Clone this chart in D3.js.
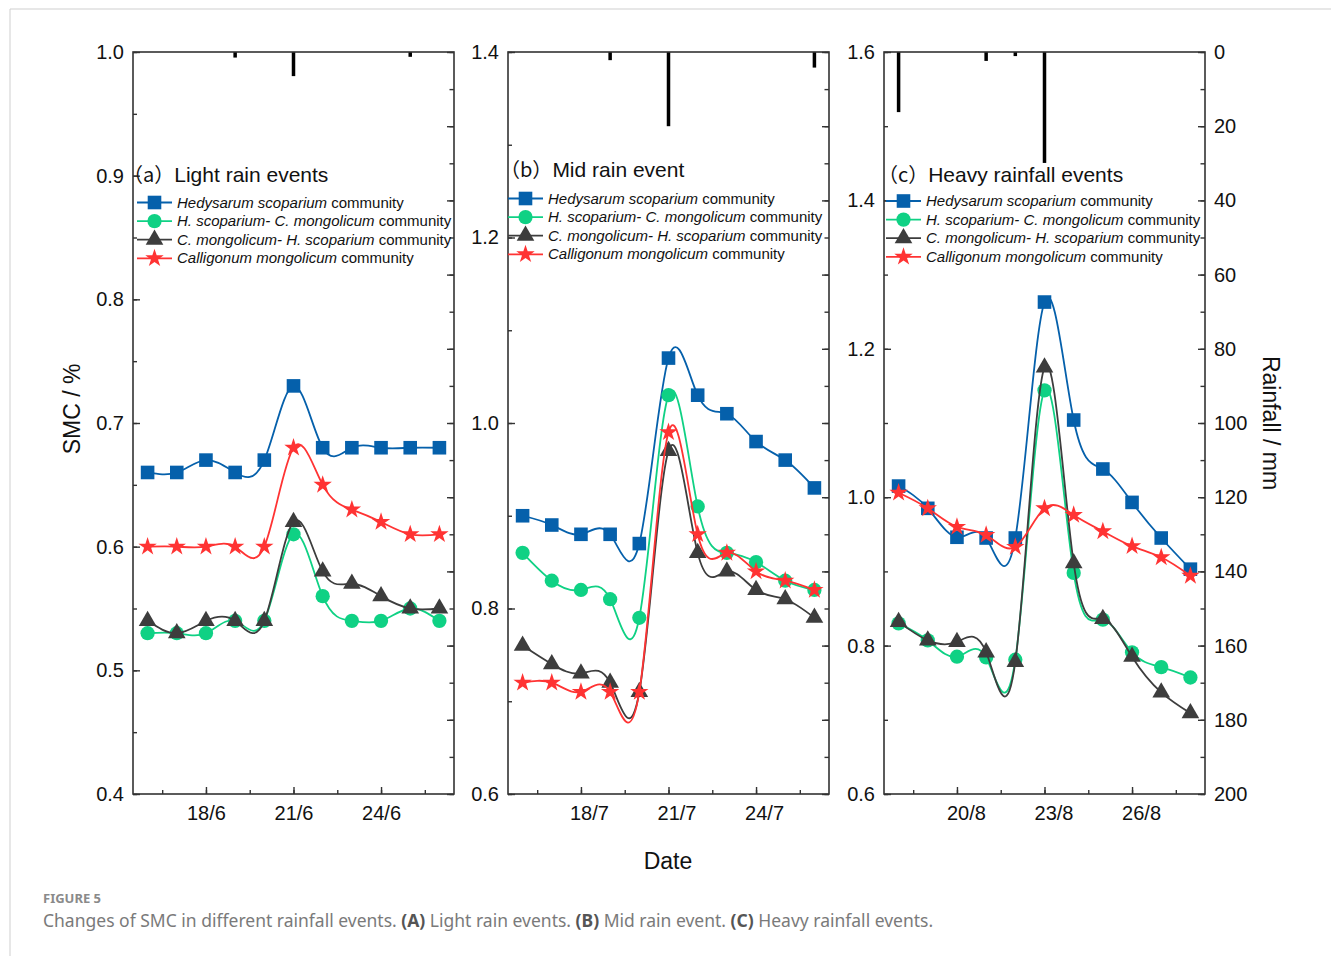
<!DOCTYPE html>
<html>
<head>
<meta charset="utf-8">
<script src="https://cdn.jsdelivr.net/npm/d3@7/dist/d3.min.js"></script>
<style>
  body { margin: 0; background: #fff; }
  svg { display: block; }
  .tick text { font-family: "Liberation Sans", Arial, sans-serif; font-size: 20px; fill: #111; }
  .tick line { stroke: #333; stroke-width: 1.4px; }
  .domain { display: none; }
</style>
</head>
<body>
<div id="chart"></div>
<script>
// ---- data ----
const seriesNames = ["Hedysarum scoparium", "H. scoparium- C. mongolicum", "C. mongolicum- H. scoparium", "Calligonum mongolicum"];
const seriesColors = ["#0560ab", "#0fd184", "#3d3d3d", "#ff3333"];

// (a) light rain, June
const daysA = [16, 17, 18, 19, 20, 21, 22, 23, 24, 25, 26];
const hsA = [0.66, 0.66, 0.67, 0.66, 0.67, 0.73, 0.68, 0.68, 0.68, 0.68, 0.68];
const hcA = [0.53, 0.53, 0.53, 0.54, 0.54, 0.61, 0.56, 0.54, 0.54, 0.55, 0.54];
const chA = [0.54, 0.53, 0.54, 0.54, 0.54, 0.62, 0.58, 0.57, 0.56, 0.55, 0.55];
const cmA = [0.60, 0.60, 0.60, 0.60, 0.60, 0.68, 0.65, 0.63, 0.62, 0.61, 0.61];
const rainDaysA = [19, 21, 25];
const rainA = [1.5, 6.5, 1.3];

// (b) mid rain, July
const daysB = [16, 17, 18, 19, 20, 21, 22, 23, 24, 25, 26];
const hsB = [0.90, 0.89, 0.88, 0.88, 0.87, 1.07, 1.03, 1.01, 0.98, 0.96, 0.93];
const hcB = [0.86, 0.83, 0.82, 0.81, 0.79, 1.03, 0.91, 0.86, 0.85, 0.83, 0.82];
const chB = [0.76, 0.74, 0.73, 0.72, 0.71, 0.97, 0.86, 0.84, 0.82, 0.81, 0.79];
const cmB = [0.72, 0.72, 0.71, 0.71, 0.71, 0.99, 0.88, 0.86, 0.84, 0.83, 0.82];
const rainDaysB = [19, 21, 26];
const rainB = [2.2, 20, 4.2];

// (c) heavy rain, August
const daysC = [18, 19, 20, 21, 22, 23, 24, 25, 26, 27, 28];
const hsC = [1.015, 0.985, 0.946, 0.945, 0.945, 1.263, 1.104, 1.038, 0.993, 0.945, 0.903];
const hcC = [0.830, 0.807, 0.785, 0.784, 0.781, 1.144, 0.898, 0.835, 0.791, 0.771, 0.757];
const chC = [0.832, 0.807, 0.805, 0.791, 0.778, 1.175, 0.911, 0.836, 0.785, 0.737, 0.709];
const cmC = [1.006, 0.985, 0.960, 0.949, 0.933, 0.985, 0.976, 0.954, 0.934, 0.919, 0.894];
const rainDaysC = [18, 21, 22, 23];
const rainC = [16.2, 2.4, 1.1, 29.9];

const labelDaysA = [18, 21, 24];
const labelDaysB = [18, 21, 24];
const labelDaysC = [20, 23, 26];
const months = [6, 7, 8];
const panelTags = ["a", "b", "c"];
const panelTitles = ["Light rain events", "Mid rain event", "Heavy rainfall events"];
const yDomains = [[0.4, 1.0], [0.6, 1.4], [0.6, 1.6]];
const yMajorSteps = [0.1, 0.2, 0.2];
const rainTicks = [0, 20, 40, 60, 80, 100, 120, 140, 160, 180, 200];

const panels = [
  { days: daysA, series: [hsA, hcA, chA, cmA], rainDays: rainDaysA, rain: rainA, labelDays: labelDaysA },
  { days: daysB, series: [hsB, hcB, chB, cmB], rainDays: rainDaysB, rain: rainB, labelDays: labelDaysB },
  { days: daysC, series: [hsC, hcC, chC, cmC], rainDays: rainDaysC, rain: rainC, labelDays: labelDaysC }
];

// ---- layout ----
const W = 1331, H = 956;
const panelLeft = [133, 508, 884];
const plotW = 321, plotTop = 52, plotH = 742;
const labelShift = [0, 8, 9];
const legendPos = [[137, 202.5], [508, 198.5], [886, 201]];
const titlePos = [[123, 182], [500, 177], [878, 182]];
const font = '"Liberation Sans", Arial, sans-serif';

const symbols = [d3.symbolSquare, d3.symbolCircle, d3.symbolTriangle, d3.symbolStar];
const symbolSizes = [185, 160, 135, 105];

const svg = d3.select("#chart").append("svg")
  .attr("width", W)
  .attr("height", H);

svg.append("rect").attr("width", W).attr("height", H).attr("fill", "#fff");
// page frame
svg.append("path").attr("d", "M10,956 V9 H1331").attr("fill", "none").attr("stroke", "#cfcfcf").attr("stroke-width", 1);

panels.forEach(function(p, i) {
  var g = svg.append("g").attr("transform", "translate(" + panelLeft[i] + "," + plotTop + ")");

  var x = d3.scaleLinear()
    .domain([p.days[0] - 0.5, p.days[p.days.length - 1] + 0.5])
    .range([0, plotW]);
  var y = d3.scaleLinear().domain(yDomains[i]).range([plotH, 0]);
  var rain = d3.scaleLinear().domain([0, 200]).range([0, plotH]);

  var step = yMajorSteps[i];
  var yMajor = d3.range(yDomains[i][0], yDomains[i][1] + 1e-9, step);
  var yMinor = d3.range(yDomains[i][0], yDomains[i][1] + 1e-9, step / 2);
  var xMinor = d3.range(p.labelDays[0] - 1.5, x.domain()[1], 1.5).filter(function(d) { return d > x.domain()[0]; });

  // rainfall bars hanging from the top
  g.selectAll(".rain")
    .data(p.rainDays.map(function(d, k) { return { day: d, mm: p.rain[k] }; }))
    .enter().append("rect")
    .attr("class", "rain")
    .attr("x", function(d) { return x(d.day) - 1.75; })
    .attr("y", 0)
    .attr("width", 3.5)
    .attr("height", function(d) { return rain(d.mm) - rain(0); })
    .attr("fill", "#000");

  // left axis
  g.append("g").call(d3.axisLeft(y).tickValues(yMinor).tickSize(-4).tickFormat(""));
  g.append("g").call(d3.axisLeft(y).tickValues(yMajor).tickSize(-7).tickPadding(9).tickFormat(d3.format(".1f")));

  // bottom axis
  g.append("g").attr("transform", "translate(0," + plotH + ")")
    .call(d3.axisBottom(x).tickValues(xMinor).tickSize(-4).tickFormat(""));
  var bx = g.append("g").attr("transform", "translate(0," + plotH + ")")
    .call(d3.axisBottom(x).tickValues(p.labelDays).tickSize(-7).tickPadding(12)
      .tickFormat(function(d) { return d + "/" + months[i]; }));
  bx.selectAll("text").attr("dx", labelShift[i]);

  // right axis: rainfall (labels only on last panel)
  var rainMinor = d3.range(0, 201, 10);
  g.append("g").attr("transform", "translate(" + plotW + ",0)")
    .call(d3.axisRight(rain).tickValues(rainMinor).tickSize(-4.5).tickFormat(""));
  g.append("g").attr("transform", "translate(" + plotW + ",0)")
    .call(d3.axisRight(rain).tickValues(rainTicks).tickSize(-7).tickPadding(9)
      .tickFormat(i === 2 ? d3.format("d") : ""))
    .selectAll("text").attr("text-anchor", "start");

  // frame
  g.append("rect").attr("width", plotW).attr("height", plotH)
    .attr("fill", "none").attr("stroke", "#333").attr("stroke-width", 1.6);

  // series
  var line = d3.line()
    .x(function(d) { return x(d.day); })
    .y(function(d) { return y(d.v); })
    .curve(d3.curveNatural);

  p.series.forEach(function(vals, s) {
    var pts = vals.map(function(v, k) { return { day: p.days[k], v: v }; });
    g.append("path").datum(pts)
      .attr("d", line)
      .attr("fill", "none")
      .attr("stroke", seriesColors[s])
      .attr("stroke-width", 1.8);
    g.selectAll(".m" + s).data(pts).enter().append("path")
      .attr("class", "m" + s)
      .attr("transform", function(d) { return "translate(" + x(d.day) + "," + y(d.v) + ")"; })
      .attr("d", d3.symbol().type(symbols[s]).size(symbolSizes[s]))
      .attr("fill", seriesColors[s]);
  });

  // panel title
  var t = svg.append("text")
    .attr("x", titlePos[i][0]).attr("y", titlePos[i][1])
    .attr("font-family", font).attr("font-size", 21).attr("fill", "#111");
  t.append("tspan").attr("font-family", '"Noto Sans CJK SC", sans-serif').attr("font-size", 20)
    .text("（" + panelTags[i] + "）");
  t.append("tspan").text(panelTitles[i]);

  // legend
  var lg = svg.append("g").attr("transform", "translate(" + legendPos[i][0] + "," + legendPos[i][1] + ")");
  seriesNames.forEach(function(name, s) {
    var row = lg.append("g").attr("transform", "translate(0," + (s * 18.6) + ")");
    row.append("line").attr("x1", 0).attr("x2", 35).attr("y1", 0).attr("y2", 0)
      .attr("stroke", seriesColors[s]).attr("stroke-width", 1.8);
    row.append("path").attr("transform", "translate(17.5,0)")
      .attr("d", d3.symbol().type(symbols[s]).size(symbolSizes[s]))
      .attr("fill", seriesColors[s]);
    var tx = row.append("text").attr("x", 40).attr("y", 5)
      .attr("font-family", font).attr("font-size", 15).attr("fill", "#111");
    tx.append("tspan").attr("font-style", "italic").text(name);
    tx.append("tspan").text(" community");
  });
});

// axis titles
svg.append("text")
  .attr("transform", "translate(80,409) rotate(-90)")
  .attr("text-anchor", "middle")
  .attr("font-family", font).attr("font-size", 23).attr("fill", "#111")
  .text("SMC / %");
svg.append("text")
  .attr("transform", "translate(1263,423) rotate(90)")
  .attr("text-anchor", "middle")
  .attr("font-family", font).attr("font-size", 23).attr("fill", "#111")
  .text("Rainfall / mm");
svg.append("text")
  .attr("x", 668).attr("y", 869)
  .attr("text-anchor", "middle")
  .attr("font-family", font).attr("font-size", 23).attr("fill", "#111")
  .text("Date");

// caption
svg.append("text")
  .attr("x", 43).attr("y", 903)
  .attr("font-family", '"Noto Sans", sans-serif').attr("font-size", 13).attr("font-weight", "bold")
  .attr("fill", "#8a8a8a")
  .text("FIGURE 5");
var cap = svg.append("text")
  .attr("x", 43).attr("y", 927)
  .attr("font-family", '"Noto Sans", sans-serif').attr("font-size", 17.5)
  .attr("fill", "#7a7a7a");
cap.append("tspan").text("Changes of SMC in different rainfall events. ");
cap.append("tspan").attr("font-weight", "bold").attr("fill", "#555").text("(A)");
cap.append("tspan").text(" Light rain events. ");
cap.append("tspan").attr("font-weight", "bold").attr("fill", "#555").text("(B)");
cap.append("tspan").text(" Mid rain event. ");
cap.append("tspan").attr("font-weight", "bold").attr("fill", "#555").text("(C)");
cap.append("tspan").text(" Heavy rainfall events.");
</script>
</body>
</html>
